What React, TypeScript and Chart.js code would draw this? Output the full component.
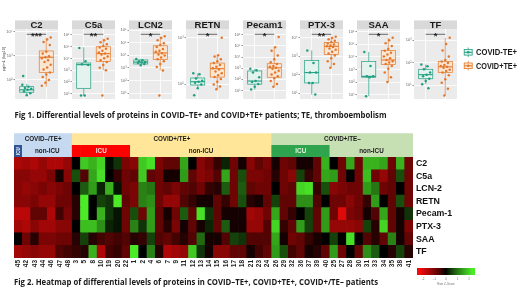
import React, { useEffect, useRef } from 'react';
import { Chart, registerables } from 'chart.js';

Chart.register(...registerables);

// ---------------- Fig 1 data (values in log10 pg/mL) ----------------
const proteins = ['C2', 'C5a', 'LCN2', 'RETN', 'Pecam1', 'PTX-3', 'SAA', 'TF'];
const significance = ['***', '**', '*', '*', '*', '**', '*', '*'];
const axisRange = [
  [1.2, 4.1], [0.54, 6.51], [0.53, 6.09], [1.68, 3.18],
  [0.24, 6.51], [0.68, 4.47], [0.65, 6.21], [0.38, 3.49],
];
const axisTicks = [
  [2, 3, 4], [1, 2, 3, 4, 5, 6], [1, 2, 3, 4, 5, 6], [2, 3],
  [1, 2, 3, 4, 5, 6], [1, 2, 3, 4], [1, 2, 3, 4, 5, 6], [1, 2, 3],
];
// [lower whisker, Q1, median, Q3, upper whisker]
const negTeBoxes = [
  [1.36, 1.48, 1.58, 1.71, 1.82],
  [0.84, 1.45, 3.47, 3.61, 4.95],
  [3.21, 3.31, 3.46, 3.63, 3.71],
  [1.91, 1.98, 2.05, 2.13, 2.23],
  [1.08, 1.57, 1.85, 2.75, 2.95],
  [0.92, 1.55, 2.11, 2.76, 3.31],
  [0.87, 2.38, 2.45, 3.63, 4.38],
  [1.04, 1.28, 1.46, 1.70, 1.91],
];
const posTeBoxes = [
  [1.71, 2.30, 2.93, 3.19, 3.74],
  [2.99, 3.74, 4.41, 5.00, 5.68],
  [2.80, 3.68, 4.19, 4.76, 5.51],
  [1.89, 2.15, 2.33, 2.45, 2.62],
  [1.34, 2.19, 3.03, 3.40, 4.87],
  [2.37, 3.09, 3.53, 3.74, 4.05],
  [2.00, 3.38, 3.75, 4.50, 5.51],
  [0.54, 1.56, 1.81, 2.05, 3.10],
];
const negTePoints = [
  [1.79, 1.71, 1.66, 1.62, 1.58, 1.52, 1.44, 1.36, 2.15],
  [4.9, 3.77, 3.5, 3.45, 0.84, 0.84],
  [3.71, 3.61, 3.53, 3.46, 3.42, 3.38, 3.31, 3.21],
  [2.23, 2.21, 2.12, 2.07, 2.05, 2.03, 1.99, 1.91, 1.76],
  [2.95, 2.82, 2.61, 2.19, 1.85, 1.76, 1.59, 1.34, 1.08],
  [3.31, 2.63, 2.11, 2.11, 1.55, 1.55, 0.92],
  [4.38, 3.28, 2.45, 2.45, 2.38, 0.87],
  [1.91, 1.83, 1.70, 1.56, 1.46, 1.39, 1.28, 1.18, 1.04, 0.86],
];
const posTePoints = [
  [3.75, 3.67, 3.56, 3.44, 3.16, 3.09, 2.97, 2.93, 2.89, 2.81, 2.73, 2.62, 2.50, 2.42, 2.30, 2.22, 2.11, 1.99, 1.87, 1.75],
  [5.68, 5.54, 5.38, 5.22, 5.06, 4.94, 4.82, 4.66, 4.50, 4.41, 4.33, 4.17, 4.01, 3.85, 3.69, 3.45, 3.20, 2.99, 0.84],
  [5.51, 5.38, 5.19, 4.96, 4.81, 4.66, 4.51, 4.36, 4.29, 4.17, 4.06, 3.98, 3.83, 3.68, 3.53, 3.31, 3.08, 2.80, 0.80],
  [2.99, 2.62, 2.59, 2.53, 2.49, 2.45, 2.41, 2.37, 2.34, 2.31, 2.27, 2.23, 2.19, 2.15, 2.11, 2.05, 1.99, 1.95, 1.89],
  [5.80, 4.87, 4.56, 4.14, 3.80, 3.54, 3.37, 3.20, 3.12, 3.03, 2.95, 2.78, 2.61, 2.44, 2.27, 2.10, 1.85, 1.59, 1.34],
  [4.05, 3.98, 3.91, 3.83, 3.75, 3.68, 3.63, 3.57, 3.53, 3.50, 3.42, 3.34, 3.24, 3.14, 3.04, 2.88, 2.73, 2.57, 2.37],
  [5.51, 5.31, 5.08, 4.86, 4.63, 4.48, 4.33, 4.18, 4.03, 3.88, 3.75, 3.65, 3.54, 3.43, 3.28, 3.05, 2.75, 2.38, 2.00],
  [3.10, 2.82, 2.53, 2.27, 2.11, 2.05, 1.98, 1.89, 1.85, 1.81, 1.77, 1.68, 1.62, 1.56, 1.43, 1.26, 1.10, 0.84, 0.54],
];

// ---------------- Fig 2 data (row z-scores) ----------------
const cohortNames = ['COVID–/TE+', 'COVID+/TE+', 'COVID+/TE–'];
const icuPatients = [['45'], ['3', '5', '8', '10', '19', '20', '22'], ['26', '29', '32', '36', '37', '39', '40']];
const nonIcuPatients = [
  ['42', '43', '44', '46', '47', '48'],
  ['1', '2', '4', '6', '7', '9', '11', '12', '13', '14', '15', '16', '17', '18', '21', '23', '24'],
  ['25', '27', '28', '30', '31', '33', '34', '35', '38', '41'],
];
const rowNames = ['C2', 'C5a', 'LCN-2', 'RETN', 'Pecam-1', 'PTX-3', 'SAA', 'TF'];
const zC2 = [-1.2, -1.1, -1.2, -1.0, -1.2, -1.2, -1.0, 0, 1.5, 1.3, 1.6, 0.05, 0.3, -0.8, -0.9, 1.5, 1.7, -0.8, -0.6, -0.6, 1.2, 0, -0.9, -0.7, -0.3, 0.2, -0.7, -0.1, -0.9, -0.6, -0.8, -0.1, -0.7, -0.6, -0.1, -0.1, -0.6, 1.3, 0, -0.7, 1.2, -0.7, 1.3, 1.3, 1.2, -0.7, 1.3, -0.7];
const zC5a = [-0.9, -0.9, -1.0, -1.0, -0.8, -0.1, -0.9, 0.5, -0.5, 1.2, 1.7, 0, -0.3, -0.7, -0.6, 1.5, -0.6, -0.7, -0.1, -0.1, 1.1, -0.6, -0.9, -0.8, -0.5, 1.2, -0.7, 0.5, -0.8, -0.8, -0.7, -0.2, -0.7, -0.9, 0.4, -0.3, -0.6, 1.2, 1.1, -0.7, 0, -0.7, 1.4, -0.7, -1.0, -0.6, 0.5, -0.7];
const zLCN2 = [-0.9, -1.0, -0.9, -0.8, -0.9, -0.8, -0.7, 0, 0.6, 1.1, 0.2, 1.3, 0.1, -0.7, -0.8, 0.9, 0.8, -0.7, -0.6, -0.8, -0.6, -0.5, -0.7, -0.3, -0.2, 0.6, -0.7, 0.6, -0.6, -0.7, -0.7, 0, -0.7, -0.6, 1.6, 1.7, -0.3, 0.5, -0.9, -0.8, -0.7, -0.7, 1.1, 0.8, -0.7, -0.6, 0, -0.7];
const zRETN = [-0.9, -0.9, -0.8, -1.0, -1.0, -0.7, -0.7, -0.2, 1.8, 0, 0.4, 0.3, 1.8, -0.6, -0.8, 0.9, 1.0, -0.7, -1.0, -1.0, -0.5, -0.3, -0.1, -0.1, -0.6, -0.3, -0.7, 0.5, -0.2, -0.1, -0.6, 0.4, -0.6, -0.6, 1.0, 1.0, -0.5, 0, -0.7, -0.7, -0.9, -0.7, -0.3, 1.1, 0, -0.6, 0.5, -0.7];
const zPecam1 = [-1.3, -1.3, -0.6, -0.6, -1.2, -0.4, -0.8, -0.2, 1.8, 0, 1.3, 0.3, 0.1, -0.7, 0.5, -0.7, 1.1, -0.6, -0.1, -0.7, 0.6, -0.6, 1.7, 0.3, -0.6, -0.1, -0.1, -0.1, -1.1, -1.0, -0.7, 1.2, -0.6, -0.3, 0, 0.4, -0.6, 1.1, -0.7, -1.6, -0.8, -0.7, -0.1, -0.5, 1.2, -0.6, -0.1, 0.3];
const zPTX3 = [-1.1, -1.2, -0.9, -1.1, -1.1, -0.9, -0.9, 0, 1.4, 1.4, 1.0, 0.2, 0.1, -0.7, 0.9, 0.3, 1.1, -0.6, -0.2, -0.8, -0.1, -0.6, -0.1, 0.2, -0.6, 0.6, -0.1, -0.1, -1.0, -1.0, -0.5, 1.6, -0.3, -0.6, 1.1, 0.4, -0.6, 1.1, -1.0, -1.0, -1.0, -0.9, 0.4, -0.2, 1.6, -0.6, -0.1, -0.8];
const zSAA = [0, -0.7, -0.2, -0.8, -0.8, -0.7, -0.7, -0.2, 0.4, -0.2, -0.4, -0.5, -0.4, -0.5, -0.2, -0.3, 0.4, -0.5, -0.6, -0.4, -0.2, -0.5, 0.7, -0.1, -0.1, -0.5, 0.4, 0.3, -0.5, -0.5, -0.5, 1.2, -0.1, -0.7, -0.6, -0.3, -0.1, 0, 0.4, 0, 1.7, 0, -0.5, -0.2, -0.6, 0.9, -0.1, -0.6];
const zTF = [-1.1, -1.0, -0.9, -1.0, -1.0, -0.5, -0.4, -0.3, -0.2, 1.3, -1.2, -0.4, -0.3, -0.6, 1.8, 0, 0.9, -0.2, -1.2, -1.1, -1.0, 1.5, 0.3, -0.1, -0.9, -0.9, -0.6, -0.6, -0.1, -0.4, -0.6, 1.1, 0.5, -0.4, -0.6, -0.1, -0.2, -0.6, 1.1, -0.7, 0, -0.6, 1.0, 0.6, 0, -0.2, 0.4, -0.2];
const heatRows = [zC2, zC5a, zLCN2, zRETN, zPecam1, zPTX3, zSAA, zTF];
const keyTicks = [-2, -1, 0, 1, 2];

// ---------------- styles ----------------
const TEAL = '#1f9e80';
const ORANGE = '#e3782b';
const TEAL_FILL = '#e4f3ee';
const ORANGE_FILL = '#fbe6d4';
const FONT = '"Liberation Sans", Arial, sans-serif';
const cohortFill = ['#c5d9f1', '#ffe699', '#c6e0b4'];
const icuFill = ['#2f5597', '#ff0000', '#2ea44f'];
const icuText = ['#ffffff', '#ffe0e0', '#e6f5dc'];
const BAND = 0.95;

const patientIds: string[] = [];
const colCohort: number[] = [];
const colIcu: boolean[] = [];
cohortNames.forEach((_, c) => {
  icuPatients[c].forEach((p) => { patientIds.push(p); colCohort.push(c); colIcu.push(true); });
  nonIcuPatients[c].forEach((p) => { patientIds.push(p); colCohort.push(c); colIcu.push(false); });
});

function heatColor(v: number) {
  const t = Math.max(-1, Math.min(1, v / 1.8));
  if (t < 0) {
    const a = Math.pow(-t, 0.85);
    return `rgb(${Math.round(245 * a)},${Math.round(10 * a)},${Math.round(10 * a)})`;
  }
  const a = Math.pow(t, 0.85);
  return `rgb(${Math.round(75 * a)},${Math.round(235 * a)},${Math.round(40 * a)})`;
}

function jitter(i: number) {
  return (((i * 7) % 11) - 5) / 22;
}

function sup(n: number) {
  const map = '⁰¹²³⁴⁵⁶⁷⁸⁹';
  return String(n).split('').map((c) => map[+c]).join('');
}

function Facet({ index }: { index: number }) {
  const ref = useRef<HTMLCanvasElement>(null);
  useEffect(() => {
    const canvas = ref.current!;
    const boxes = [negTeBoxes[index], posTeBoxes[index]];
    const fills = [TEAL_FILL, ORANGE_FILL];
    const strokes = [TEAL, ORANGE];
    const facetPlugin = {
      id: 'facet' + index,
      beforeDraw(chart: any) {
        const { ctx, chartArea: a } = chart;
        ctx.save();
        ctx.fillStyle = '#ebebeb';
        ctx.fillRect(a.left, a.top, a.right - a.left, a.bottom - a.top);
        ctx.fillStyle = '#d9d9d9';
        ctx.fillRect(a.left, a.top - 8.6, a.right - a.left, 8.6);
        ctx.fillStyle = '#1a1a1a';
        ctx.font = `bold 9.5px ${FONT}`;
        ctx.textAlign = 'center';
        ctx.textBaseline = 'middle';
        ctx.fillText(proteins[index], (a.left + a.right) / 2, a.top - 3.9);
        ctx.restore();
      },
      beforeDatasetsDraw(chart: any) {
        const { ctx } = chart;
        const xs = chart.scales.x;
        const ys = chart.scales.y;
        boxes.forEach((b, g) => {
          const xc = xs.getPixelForValue(g + 1);
          const hw = xs.getPixelForValue(g + 1 + 0.36) - xc;
          const [wl, q1, md, q3, wh] = b.map((v) => ys.getPixelForValue(v));
          ctx.save();
          ctx.strokeStyle = strokes[g];
          ctx.lineWidth = 0.7;
          ctx.beginPath();
          ctx.moveTo(xc, wh); ctx.lineTo(xc, q3);
          ctx.moveTo(xc, q1); ctx.lineTo(xc, wl);
          ctx.stroke();
          ctx.fillStyle = fills[g];
          ctx.fillRect(xc - hw, q3, 2 * hw, q1 - q3);
          ctx.strokeRect(xc - hw, q3, 2 * hw, q1 - q3);
          ctx.lineWidth = 1.1;
          ctx.beginPath();
          ctx.moveTo(xc - hw, md); ctx.lineTo(xc + hw, md);
          ctx.stroke();
          ctx.restore();
        });
      },
      afterDatasetsDraw(chart: any) {
        const { ctx, chartArea: a } = chart;
        const xs = chart.scales.x;
        const x1 = xs.getPixelForValue(1);
        const x2 = xs.getPixelForValue(2);
        const y = a.top + 5.3;
        ctx.save();
        ctx.strokeStyle = '#333';
        ctx.lineWidth = 0.7;
        ctx.beginPath(); ctx.moveTo(x1, y); ctx.lineTo(x2, y); ctx.stroke();
        ctx.fillStyle = '#222';
        ctx.font = `bold 9.5px ${FONT}`;
        ctx.textAlign = 'center';
        ctx.textBaseline = 'alphabetic';
        ctx.fillText(significance[index], (x1 + x2) / 2, y + 4.2);
        ctx.restore();
      },
    };
    const chart = new Chart(canvas, {
      type: 'scatter',
      data: {
        datasets: [
          {
            label: 'COVID-TE+',
            data: negTePoints[index].map((v, i) => ({ x: 1 + jitter(i), y: v })),
            backgroundColor: TEAL,
            borderColor: TEAL,
            pointRadius: 1.25,
            borderWidth: 0,
          },
          {
            label: 'COVID+TE+',
            data: posTePoints[index].map((v, i) => ({ x: 2 + jitter(i + 3), y: v })),
            backgroundColor: ORANGE,
            borderColor: ORANGE,
            pointRadius: 1.25,
            borderWidth: 0,
          },
        ],
      },
      options: {
        responsive: false,
        maintainAspectRatio: false,
        animation: false,
        layout: { padding: { top: 9, left: 0, right: 0, bottom: 0 } },
        plugins: { legend: { display: false }, tooltip: { enabled: false } },
        scales: {
          x: {
            type: 'linear',
            min: 0.4,
            max: 2.6,
            afterBuildTicks: (s: any) => { s.ticks = [{ value: 1 }, { value: 2 }]; },
            ticks: { display: false },
            grid: { color: '#ffffff', lineWidth: 0.8, drawTicks: false },
            border: { display: false },
            afterFit: (s: any) => { s.height = 0; },
          },
          y: {
            type: 'linear',
            min: axisRange[index][0],
            max: axisRange[index][1],
            afterBuildTicks: (s: any) => { s.ticks = axisTicks[index].map((v) => ({ value: v })); },
            ticks: { font: { size: 4, family: FONT }, color: '#666', padding: 1, callback: (v: any) => '10' + sup(v) },
            grid: { color: '#ffffff', lineWidth: 0.8, tickLength: 1.5, tickColor: '#777' },
            border: { display: false },
            afterFit: (s: any) => { s.width = 12; },
          },
        },
      } as any,
      plugins: [facetPlugin],
    });
    return () => chart.destroy();
  }, [index]);
  const left = 3 + index * 57;
  return (
    <canvas
      ref={ref}
      width={59}
      height={83}
      style={{ position: 'absolute', left, top: 20, width: 59, height: 83 }}
    />
  );
}

function Heatmap() {
  const ref = useRef<HTMLCanvasElement>(null);
  useEffect(() => {
    const canvas = ref.current!;
    const datasets: any[] = [];
    for (let r = heatRows.length - 1; r >= 0; r--) {
      datasets.push({
        label: rowNames[r],
        data: patientIds.map(() => 1),
        backgroundColor: heatRows[r].map(heatColor),
        borderWidth: 0,
        barPercentage: 1,
        categoryPercentage: 1,
      });
    }
    datasets.push({
      label: 'ICU',
      data: patientIds.map(() => BAND),
      backgroundColor: patientIds.map((_, i) => (colIcu[i] ? icuFill[colCohort[i]] : cohortFill[colCohort[i]])),
      borderWidth: 0,
      barPercentage: 1,
      categoryPercentage: 1,
    });
    datasets.push({
      label: 'cohort',
      data: patientIds.map(() => BAND),
      backgroundColor: patientIds.map((_, i) => cohortFill[colCohort[i]]),
      borderWidth: 0,
      barPercentage: 1,
      categoryPercentage: 1,
    });
    const rowsBottomUp = [...rowNames].reverse();
    const bandPlugin = {
      id: 'bands',
      afterDatasetsDraw(chart: any) {
        const { ctx, chartArea: a } = chart;
        const xs = chart.scales.x;
        const ys = chart.scales.y;
        const colW = (a.right - a.left) / patientIds.length;
        const yIcu = ys.getPixelForValue(8 + BAND / 2);
        const yCoh = ys.getPixelForValue(8 + BAND * 1.5);
        let start = 0;
        ctx.save();
        ctx.textAlign = 'center';
        ctx.textBaseline = 'middle';
        cohortNames.forEach((name, c) => {
          const nI = icuPatients[c].length;
          const nN = nonIcuPatients[c].length;
          const x0 = xs.getPixelForValue(start) - colW / 2;
          const x1 = xs.getPixelForValue(start + nI + nN - 1) + colW / 2;
          const xi1 = xs.getPixelForValue(start + nI - 1) + colW / 2;
          ctx.fillStyle = '#1a1a1a';
          ctx.font = `bold 6.3px ${FONT}`;
          ctx.fillText(name, (x0 + x1) / 2, yCoh + 0.3);
          ctx.fillText('non-ICU', (xi1 + x1) / 2, yIcu + 0.3);
          ctx.fillStyle = icuText[c];
          if (nI === 1) {
            ctx.save();
            ctx.translate((x0 + xi1) / 2, yIcu);
            ctx.rotate(-Math.PI / 2);
            ctx.font = `bold 4.5px ${FONT}`;
            ctx.fillText('ICU', 0, 0.3);
            ctx.restore();
          } else {
            ctx.fillText('ICU', (x0 + xi1) / 2, yIcu + 0.3);
          }
          start += nI + nN;
        });
        ctx.restore();
      },
      afterDraw(chart: any) {
        const { ctx, chartArea: a } = chart;
        const kx = a.right + 4;
        const ky = a.bottom + 10;
        const kw = 58;
        const kh = 7;
        const lo = keyTicks[0];
        const hi = keyTicks[keyTicks.length - 1];
        ctx.save();
        for (let i = 0; i < kw; i++) {
          const v = lo + ((hi - lo) * (i + 0.5)) / kw;
          ctx.fillStyle = heatColor(v);
          ctx.fillRect(kx + i, ky, 1.05, kh);
        }
        ctx.fillStyle = '#777';
        ctx.font = `3px ${FONT}`;
        ctx.textAlign = 'center';
        ctx.textBaseline = 'middle';
        keyTicks.forEach((t) => {
          const x = kx + 6 + ((kw - 12) * (t - lo)) / (hi - lo);
          ctx.fillText(String(t), x, ky + kh + 4);
        });
        ctx.fillText('Row Z-Score', kx + kw / 2, ky + kh + 9);
        ctx.restore();
      },
    };
    const chart = new Chart(canvas, {
      type: 'bar',
      data: { labels: patientIds, datasets },
      options: {
        responsive: false,
        maintainAspectRatio: false,
        animation: false,
        layout: { padding: 0 },
        plugins: { legend: { display: false }, tooltip: { enabled: false } },
        scales: {
          x: {
            stacked: true,
            ticks: {
              autoSkip: false,
              minRotation: 90,
              maxRotation: 90,
              padding: 2,
              color: '#222',
              font: { size: 6.5, weight: 'bold', family: FONT },
            },
            grid: { display: false, drawTicks: false },
            border: { display: false },
            afterFit: (s: any) => { s.height = 30; },
          },
          y: {
            stacked: true,
            position: 'right',
            min: 0,
            max: 8 + 2 * BAND,
            afterBuildTicks: (s: any) => { s.ticks = rowsBottomUp.map((_, i) => ({ value: i + 0.5 })); },
            ticks: {
              padding: 3,
              color: '#111',
              font: { size: 8.8, weight: 'bold', family: FONT },
              callback: (_v: any, i: number) => rowsBottomUp[i] ?? '',
            },
            grid: { display: false, drawTicks: false },
            border: { display: false },
            afterFit: (s: any) => { s.width = 80; },
          },
        },
      } as any,
      plugins: [bandPlugin],
    });
    return () => chart.destroy();
  }, []);
  return (
    <canvas
      ref={ref}
      width={479}
      height={163}
      style={{ position: 'absolute', left: 14, top: 125, width: 479, height: 163 }}
    />
  );
}

export default function App() {
  const capFont = '"Open Sans", "Liberation Sans", sans-serif';
  return (
    <div style={{ position: 'fixed', left: 0, top: 0, width: 520, height: 292, background: '#fff', overflow: 'hidden' }}>
      {proteins.map((_, i) => (
        <Facet key={i} index={i} />
      ))}
      <Heatmap />
      <svg width={520} height={292} style={{ position: 'absolute', left: 0, top: 0, pointerEvents: 'none' }}>
        <text
          x={4.5}
          y={59}
          transform="rotate(-90 4.5 59)"
          textAnchor="middle"
          fontSize={4}
          fill="#444"
          fontFamily={FONT}
        >
          pg/mL (log10)
        </text>
        {/* legend */}
        <g>
          <line x1={468.2} y1={47.5} x2={468.2} y2={57} stroke={TEAL} strokeWidth={0.8} />
          <rect x={464.2} y={49.5} width={8} height={5.6} fill={TEAL_FILL} stroke={TEAL} strokeWidth={0.8} />
          <line x1={464.2} y1={52.3} x2={472.2} y2={52.3} stroke={TEAL} strokeWidth={1} />
          <circle cx={468.2} cy={52.3} r={1.3} fill={TEAL} />
          <text x={476} y={55.3} fontSize={8.5} fontWeight="bold" fill="#1a1a1a" fontFamily={FONT} textLength={41} lengthAdjust="spacingAndGlyphs">
            COVID-TE+
          </text>
          <line x1={468.2} y1={61} x2={468.2} y2={70.5} stroke={ORANGE} strokeWidth={0.8} />
          <rect x={464.2} y={63} width={8} height={5.6} fill={ORANGE_FILL} stroke={ORANGE} strokeWidth={0.8} />
          <line x1={464.2} y1={65.8} x2={472.2} y2={65.8} stroke={ORANGE} strokeWidth={1} />
          <circle cx={468.2} cy={65.8} r={1.3} fill={ORANGE} />
          <text x={476} y={68.9} fontSize={8.5} fontWeight="bold" fill="#1a1a1a" fontFamily={FONT} textLength={41} lengthAdjust="spacingAndGlyphs">
            COVID+TE+
          </text>
        </g>
        <text x={14.5} y={117.5} fontSize={9} fontWeight="bold" fill="#1a1a1a" fontFamily={capFont} textLength={372} lengthAdjust="spacingAndGlyphs">
          Fig 1. Differential levels of proteins in COVID–TE+ and COVID+TE+ patients; TE, thromboembolism
        </text>
        <text x={14} y={285} fontSize={9} fontWeight="bold" fill="#1a1a1a" fontFamily={capFont} textLength={364} lengthAdjust="spacingAndGlyphs">
          Fig 2. Heatmap of differential levels of proteins in COVID–TE+, COVID+TE+, COVID+/TE– patients
        </text>
      </svg>
    </div>
  );
}
